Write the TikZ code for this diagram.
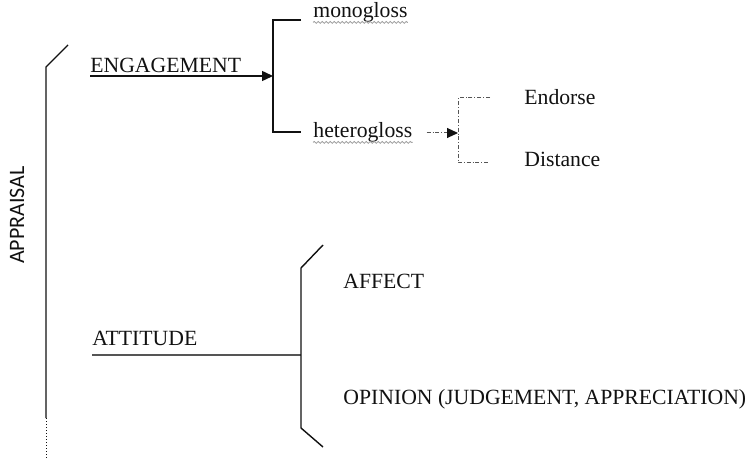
\documentclass[tikz,border=0pt]{standalone}
\usepackage{fontspec}
\setmainfont{Liberation Serif}
\newfontfamily\apsans{Carlito}
\usetikzlibrary{arrows.meta,positioning,decorations.pathmorphing}
\definecolor{apink}{HTML}{111111}
\definecolor{apgrey}{HTML}{555555}
\definecolor{apwave}{HTML}{9A9A9A}
\tikzstyle{aplabel}=[inner sep=0pt,anchor=base west,text=apink,font=\fontsize{10.85}{13}\selectfont]
\tikzstyle{apline}=[draw=apink,line width=0.7pt]
\tikzstyle{aparrow}=[apline,-{Triangle[length=5.5pt,width=5pt]}]
\tikzstyle{apdash}=[draw=apgrey,line width=0.5pt,dash pattern=on 2pt off 1pt on 0.4pt off 1pt]
\tikzstyle{apwavy}=[draw=apwave,line width=0.4pt,decorate,decoration={snake,amplitude=0.45pt,segment length=2pt}]

\begin{document}
\begin{tikzpicture}[x=0.5pt,y=-0.5pt]
    \useasboundingbox (0,0) rectangle (753,459);
    \node[rotate=90,font=\apsans\fontsize{11}{13}\selectfont,text=apink] (appraisal) at (17,215) {APPRAISAL};
    \draw[apline] (68,45) -- (46,67) -- (46,418) coordinate (apend);
    \draw[apink,line width=0.5pt,densely dotted] (apend) -- (46,459);
    % engagement
    \node[aplabel] (eng) at (90,73) {ENGAGEMENT};
    \node[aplabel] (mono) at (313,18) {monogloss};
    \node[aplabel] (hetero) at (313,138) {heterogloss};
    \coordinate (engfork) at (273,76);
    \draw[aparrow] ([yshift=-1.5pt]eng.base west) -- (engfork);
    \draw[apline] ([xshift=-6pt,yshift=-1pt]mono.base west) -| (engfork) |- ([xshift=-6pt,yshift=3pt]hetero.base west);
    \foreach \n in {mono,hetero} {\draw[apwavy] ([yshift=-2.2pt]\n.base west) -- ([yshift=-2.2pt]\n.base east);}
    \node[aplabel] (endorse) at (524,105) {Endorse};
    \node[aplabel] (distance) at (524,167) {Distance};
    \coordinate (hetfork) at (458,133);
    \draw[apdash,-{Triangle[length=5.5pt,width=5pt,color=apink,fill=apink]}] ([xshift=7pt,yshift=2.5pt]hetero.base east) -- (hetfork);
    \draw[apdash] ([xshift=-17pt,yshift=3.5pt]endorse.base west) -| (hetfork) |- ([xshift=-17pt,yshift=2pt]distance.base west);
    % attitude
    \node[aplabel] (att) at (92,345) {ATTITUDE};
    \node[aplabel] (affect) at (343,288) {AFFECT};
    \node[aplabel] (opinion) at (343,404) {OPINION (JUDGEMENT, APPRECIATION)};
    \coordinate (attfork) at (301,355);
    \draw[apline,draw=apgrey] ([yshift=-5pt]att.base west) -- (attfork);
    \draw[apline] (323,245) -- (301,268) -- (attfork) -- (301,428) -- (323,447);
  \end{tikzpicture}
\end{document}
